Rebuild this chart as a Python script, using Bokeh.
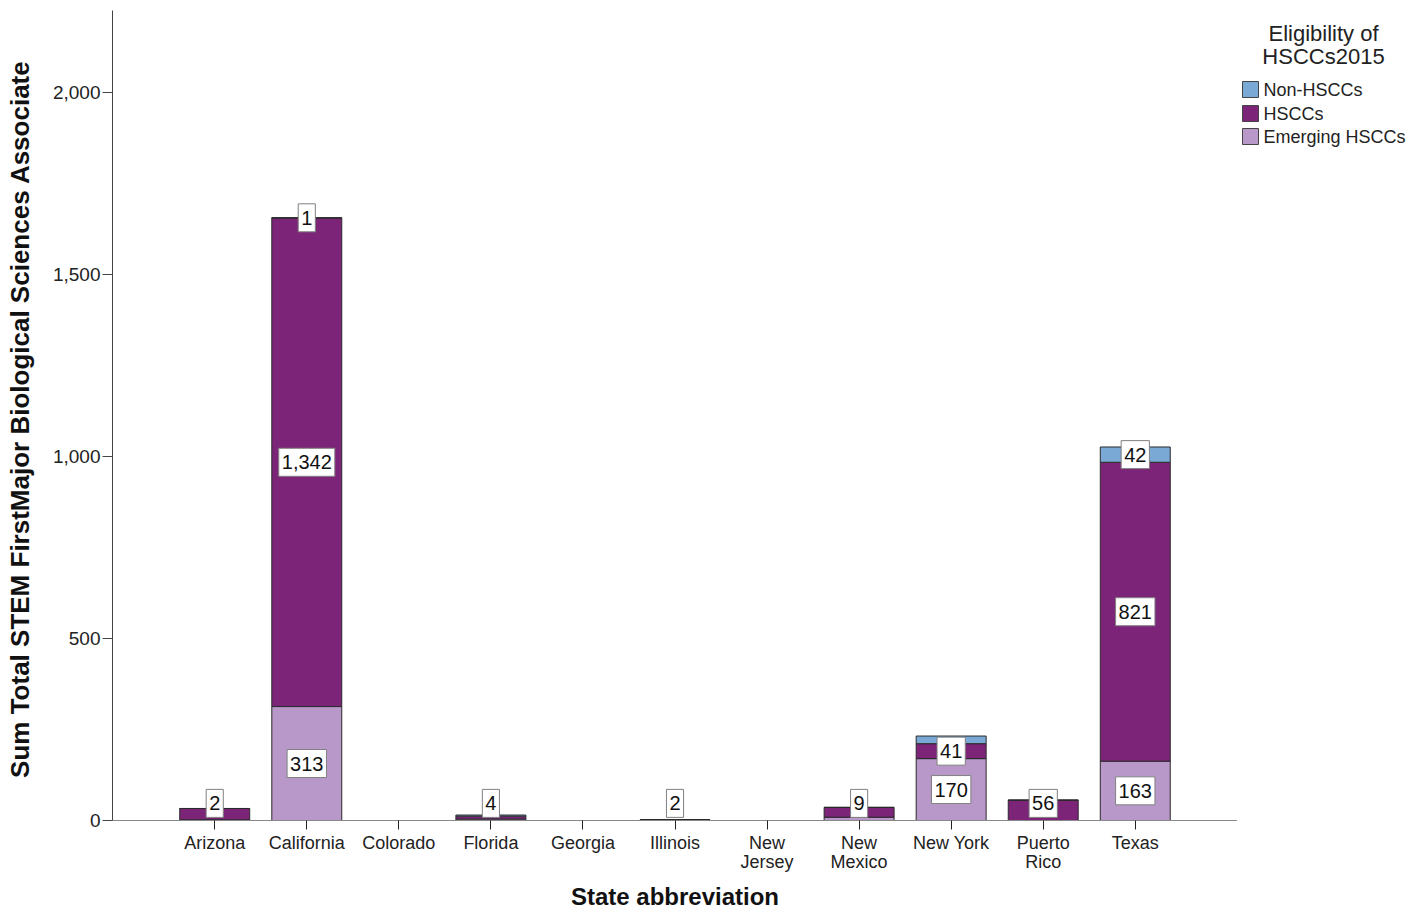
from bokeh.plotting import figure
from bokeh.layouts import row
from bokeh.models import (ColumnDataSource, FactorRange, Range1d, FixedTicker,
                          NumeralTickFormatter)
from bokeh.core.properties import value
from bokeh.embed import file_html
from bokeh.resources import INLINE

# ---------------- data ----------------
states = ["Arizona", "California", "Colorado", "Florida", "Georgia", "Illinois",
          "New\nJersey", "New\nMexico", "New York", "Puerto\nRico", "Texas"]
emerging = [2, 313, 0, 4, 0, 2, 0, 9, 170, 0, 163]
hsccs = [31, 1342, 0, 8, 0, 0, 0, 27, 41, 56, 821]
non_hsccs = [0, 1, 0, 3, 0, 0, 0, 0, 21, 0, 42]
series = ["Emerging HSCCs", "HSCCs", "Non-HSCCs"]
colors = ["#b898c8", "#7b2478", "#7aa9d6"]
y_ticks = [0, 500, 1000, 1500, 2000]
legend_title = ["Eligibility of", "HSCCs2015"]

FONT = "Liberation Sans"
H = 913
W_MAIN = 1237
W_LEG = 171

src = ColumnDataSource(dict(state=states, e=emerging, h=hsccs, n=non_hsccs))

p = figure(x_range=FactorRange(factors=states, range_padding=0.111,
                               range_padding_units="percent"),
           y_range=Range1d(0, 2225), width=W_MAIN, height=H,
           output_backend="svg", toolbar_location=None,
           min_border_left=112, min_border_right=0, min_border_top=10,
           min_border_bottom=93)
p.outline_line_color = None
p.grid.visible = False

rs = p.vbar_stack(["e", "h", "n"], x="state", width=0.76, source=src,
                  fill_color=colors, line_color="#2a2a2a", line_width=1)

# data labels (white boxes); labels that would overlap are skipped
lx, ly, lt = [], [], []
min_c = 47
box_h = 88
for i, s in enumerate(states):
    base = 0
    placed = []
    for vals in (emerging, hsccs, non_hsccs):
        v = vals[i]
        if v > 0:
            c = max(base + v / 2, min_c)
            if all(abs(c - q) >= box_h for q in placed):
                placed.append(c)
                lx.append(s)
                ly.append(c)
                lt.append(f"{v:,}")
        base += v
p.text(x=lx, y=ly, text=lt, text_align="center", text_baseline="middle",
       text_font=value(FONT), text_font_size="20px", text_color="#111111",
       background_fill_color="white", border_line_color="#808080",
       border_line_width=1, padding=dict(left=3, right=3, top=7, bottom=7))

# axes
ya = p.yaxis[0]
ya.ticker = FixedTicker(ticks=y_ticks)
ya.formatter = NumeralTickFormatter(format="0,0")
ya.minor_tick_line_color = None
ya.major_tick_out = 10
ya.major_tick_in = 0
ya.major_label_standoff = 2
ya.major_label_text_font = FONT
ya.major_label_text_font_size = "19px"
ya.major_label_text_color = "#222222"
ya.axis_line_color = "#444444"
ya.major_tick_line_color = "#444444"
ya.axis_label = "Sum Total STEM FirstMajor  Biological Sciences Associate"
ya.axis_label_text_font = FONT
ya.axis_label_text_font_style = "bold"
ya.axis_label_text_font_size = "26px"
ya.axis_label_text_color = "#111111"
ya.axis_label_standoff = 15

xa = p.xaxis[0]
xa.major_tick_out = 9
xa.major_tick_in = 0
xa.major_label_standoff = 3
xa.major_label_text_font = FONT
xa.major_label_text_font_size = "18px"
xa.major_label_text_color = "#222222"
xa.major_label_text_line_height = 0.95
xa.axis_line_color = "#888888"
xa.major_tick_line_color = "#222222"
xa.axis_label = "State abbreviation"
xa.axis_label_text_font = FONT
xa.axis_label_text_font_style = "bold"
xa.axis_label_text_font_size = "24px"
xa.axis_label_text_color = "#111111"
xa.axis_label_standoff = 8

# ---------------- legend panel (separate figure to the right) ----------------
# y data = pixels below the top of the plotting frame
lg = figure(width=W_LEG, height=H, x_range=Range1d(0, W_LEG), y_range=Range1d(810, 0),
            output_backend="svg", toolbar_location=None,
            x_axis_type=None, y_axis_type=None, min_border=0)
lg.outline_line_color = None
lg.grid.visible = False

order = [2, 1, 0]
sw_y = [79, 103, 126]
lg.rect(x=[13] * 3, y=sw_y, width=16, height=16,
        fill_color=[colors[k] for k in order], line_color="#444444", line_width=1)
lg.text(x=[26] * 3, y=sw_y, text=[series[k] for k in order],
        text_align="left", text_baseline="middle", text_font=value(FONT),
        text_font_size="18px", text_color="#222222")
lg.text(x=[86, 86], y=[23, 46], text=legend_title, text_align="center",
        text_baseline="middle", text_font=value(FONT), text_font_size="22px",
        text_color="#222222")

layout = row(p, lg, spacing=0)
open("out.html", "w").write(file_html(layout, INLINE))
